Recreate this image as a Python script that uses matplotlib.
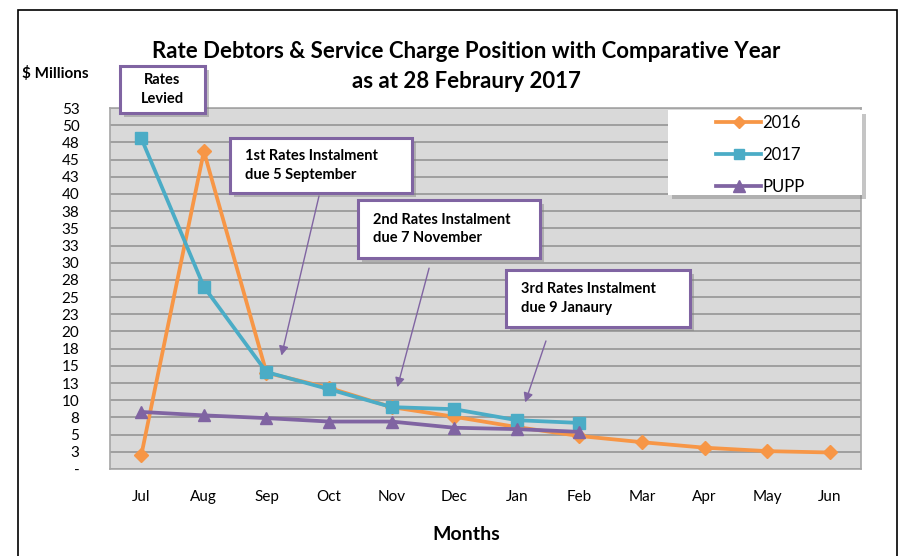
import numpy as np
import matplotlib
matplotlib.use('Agg')
from matplotlib import pyplot as plt
from matplotlib.patches import Rectangle

plt.rcParams['font.family'] = ['Lato', 'DejaVu Sans']

months = ['Jul', 'Aug', 'Sep', 'Oct', 'Nov', 'Dec', 'Jan', 'Feb', 'Mar', 'Apr', 'May', 'Jun']
y2016 = [2.0, 46.2, 14.0, 11.8, 9.0, 7.6, 6.1, 4.8, 3.9, 3.1, 2.6, 2.4]
y2017 = [48.1, 26.5, 14.1, 11.6, 9.0, 8.7, 7.1, 6.7]
pupp = [8.3, 7.8, 7.4, 6.9, 6.9, 6.0, 5.8, 5.4]
yticks = np.arange(0, 53, 2.5)
ytick_labels = ['-', '3', '5', '8', '10', '13', '15', '18', '20', '23', '25', '28',
                '30', '33', '35', '38', '40', '43', '45', '48', '50', '53']

W, H = 907, 556
fig = plt.figure(figsize=(W/100, H/100), dpi=100)

def fx(x): return x / W
def fy(y): return 1 - y / H

# outer frame
fig.patches.append(Rectangle((fx(18), fy(600)), fx(897) - fx(18), fy(10) - fy(600),
                             transform=fig.transFigure, fill=False, ec='black', lw=1.2))

ax = fig.add_axes([fx(110), fy(469), fx(861) - fx(110), fy(108) - fy(469)])
ax.set_facecolor('#D9D9D9')
x = np.arange(len(months))
ax.plot(x, y2016, color='#F79646', lw=2.7, marker='D', ms=7, label='2016', zorder=3)
ax.plot(x[:len(y2017)], y2017, color='#4BACC6', lw=2.7, marker='s', ms=8.5, label='2017', zorder=4)
ax.plot(x[:len(pupp)], pupp, color='#8064A2', lw=2.7, marker='^', ms=9, label='PUPP', zorder=5)

ax.set_xlim(-0.5, len(months) - 0.5)
ax.set_ylim(0, 52.5)
ax.set_yticks(yticks)
ax.set_yticklabels(ytick_labels, fontsize=11)
ax.set_xticks(x)
ax.set_xticklabels(months, fontsize=11)
ax.tick_params(length=0)
ax.tick_params(axis='y', pad=22)
ax.tick_params(axis='x', pad=15)
ax.grid(axis='y', color='#9A9A9A', lw=1.3)
ax.set_axisbelow(True)
for s in ax.spines.values():
    s.set_color('#A6A6A6')
    s.set_linewidth(1.2)

def box(x0, y0, x1, y1, ec='#8064A2', lw=2.2):
    fig.patches.append(Rectangle((fx(x0 + 4), fy(y1 + 4)), fx(x1) - fx(x0), fy(y0) - fy(y1),
                                 transform=fig.transFigure, fc='#7F7F7F', ec='none',
                                 alpha=0.45, zorder=9))
    fig.patches.append(Rectangle((fx(x0), fy(y1)), fx(x1) - fx(x0), fy(y0) - fy(y1),
                                 transform=fig.transFigure, fc='white', ec=ec,
                                 lw=lw, zorder=10))

# legend panel
box(668, 110, 862, 195, ec='white', lw=0)
handles, labels = ax.get_legend_handles_labels()
leg = fig.legend(handles, labels, loc='upper left', bbox_to_anchor=(fx(716), fy(115)),
                 bbox_transform=fig.transFigure, fontsize=12, frameon=False,
                 handlelength=2.7, labelspacing=0.95, borderpad=0.0, borderaxespad=0.0,
                 handletextpad=0.1, markerscale=0.9)
leg.set_zorder(12)

fig.text(0.514, fy(51), 'Rate Debtors & Service Charge Position with Comparative Year',
         ha='center', va='center', fontsize=16, fontweight='bold')
fig.text(0.514, fy(81), 'as at 28 Febraury 2017', ha='center', va='center',
         fontsize=16, fontweight='bold')
fig.text(fx(22), fy(73), '$ Millions', ha='left', va='center', fontsize=11, fontweight='bold')
fig.text(0.514, fy(535), 'Months', ha='center', va='center', fontsize=14, fontweight='bold')

def label(x0, y0, x1, y1, lines, tx, ha='left'):
    box(x0, y0, x1, y1)
    fig.text(fx(tx), fy((y0 + y1) / 2), lines, ha=ha, va='center', fontsize=10.5,
             fontweight='bold', linespacing=1.45, zorder=11)

label(120, 66, 205, 113, 'Rates\nLevied', 162, ha='center')
label(230, 138, 412, 193, '1st Rates Instalment\ndue 5 September', 245)
label(358, 200, 540, 258, '2nd Rates Instalment\ndue 7 November', 373)
label(506, 270, 690, 327, '3rd Rates Instalment\ndue 9 Janaury', 521)

arrows = [((2.85, 40.1), (2.23, 16.1)),
          ((4.61, 29.6), (4.08, 11.5)),
          ((6.48, 19.0), (6.12, 9.3))]
for tail, head in arrows:
    ax.annotate('', xy=head, xytext=tail,
                arrowprops=dict(arrowstyle='-|>', color='#8064A2', lw=1.0,
                                mutation_scale=14), zorder=6)

fig.savefig('out.png', dpi=100)
